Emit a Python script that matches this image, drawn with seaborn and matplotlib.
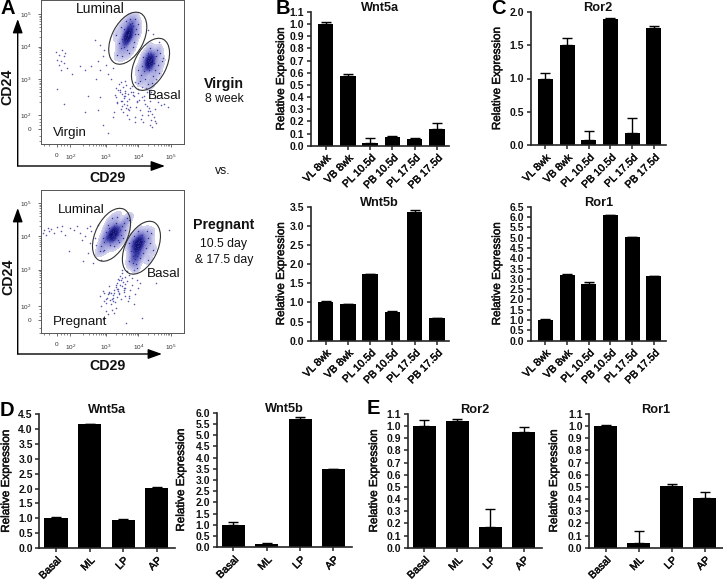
"""
Mammary gland figure: two FACS dot plots (A) and qPCR bars (B-E).
Flow events below are hand-read from the picture, in decades of the biexponential axis.
"""

import numpy as np
import matplotlib
matplotlib.use("Agg")
import matplotlib.pyplot as plt
import matplotlib.patheffects as pe
from matplotlib.colors import LinearSegmentedColormap
from matplotlib.patches import Ellipse
import pandas as pd
import seaborn as sns

W, H = 723, 580

TIME_LABELS = ["VL 8wk", "VB 8wk", "PL 10.5d", "PB 10.5d", "PL 17.5d", "PB 17.5d"]
CELL_LABELS = ["Basal", "ML", "LP", "AP"]

wnt5a_time = [1.0, 0.57, 0.02, 0.07, 0.055, 0.135]
wnt5a_time_err = [0.02, 0.02, 0.04, 0.012, 0.005, 0.055]
ror2_time = [1.0, 1.5, 0.08, 1.89, 0.18, 1.75]
ror2_time_err = [0.085, 0.105, 0.13, 0.02, 0.23, 0.03]
wnt5b_time = [1.0, 0.95, 1.74, 0.75, 3.37, 0.6]
wnt5b_time_err = [0.035, 0.005, 0.015, 0.02, 0.04, 0.005]
ror1_time = [1.0, 3.2, 2.74, 6.1, 5.02, 3.12]
ror1_time_err = [0.03, 0.05, 0.1, 0.02, 0.01, 0.01]

wnt5a_cell = [1.0, 4.16, 0.95, 2.02]
wnt5a_cell_err = [0.03, 0.02, 0.015, 0.03]
wnt5b_cell = [1.0, 0.13, 5.73, 3.47]
wnt5b_cell_err = [0.12, 0.08, 0.06, 0.01]
ror2_cell = [1.0, 1.04, 0.17, 0.95]
ror2_cell_err = [0.05, 0.02, 0.15, 0.04]
ror1_cell = [1.0, 0.04, 0.51, 0.41]
ror1_cell_err = [0.01, 0.1, 0.01, 0.05]

# virgin plot, gated populations
virgin_lum_x = [3.69, 3.72, 3.65, 3.75, 3.62, 3.68, 3.78, 3.58, 3.71, 3.66, 3.82, 3.6, 3.55, 3.74,
                3.5, 3.88, 3.64, 3.8, 3.45, 3.92, 3.7, 3.56, 3.85, 3.4, 3.62, 3.98, 3.35, 3.75, 3.5, 3.9,
                3.67, 3.72, 3.63, 3.7, 3.76, 3.6, 3.3, 4.0, 3.46, 3.84]
virgin_lum_y = [4.36, 4.45, 4.28, 4.5, 4.2, 4.38, 4.3, 4.1, 4.58, 4.15, 4.62, 4.42, 4.0, 4.7,
                4.25, 4.4, 3.9, 4.72, 3.95, 4.55, 3.8, 4.55, 4.15, 4.1, 4.78, 4.7, 3.75, 4.85, 3.7, 4.85,
                4.32, 4.4, 4.35, 4.25, 4.42, 4.3, 4.35, 4.4, 4.6, 3.98]
virgin_bas_x = [4.35, 4.38, 4.32, 4.42, 4.3, 4.36, 4.47, 4.25, 4.4, 4.33, 4.55, 4.22, 4.5, 4.18,
                4.28, 4.6, 4.12, 4.45, 4.08, 4.65, 4.2, 4.58, 4.05, 4.35, 4.72, 4.15, 4.3, 4.62, 4.0, 4.42,
                4.34, 4.37, 4.39, 4.31, 4.36, 4.33]
virgin_bas_y = [3.56, 3.62, 3.48, 3.66, 3.58, 3.4, 3.5, 3.36, 3.75, 3.3, 3.7, 3.55, 3.3, 3.25,
                3.8, 3.45, 3.42, 3.1, 3.12, 3.82, 3.0, 3.9, 2.95, 3.95, 3.55, 3.68, 2.85, 3.2, 3.3, 2.88,
                3.55, 3.5, 3.6, 3.52, 3.44, 3.64]
# virgin plot, events outside the gates
virgin_dot_x = [1.45, 1.5, 1.55, 1.6, 1.65, 1.7, 1.72, 1.6, 1.55, 1.75, 1.8, 1.95, 2.2, 2.35, 2.55, 2.75,
                2.8, 2.9, 3.0, 2.7, 2.65, 2.8, 2.95, 3.05, 3.2, 3.15, 1.5, 1.7, 2.45, 2.35, 2.8, 2.75,
                3.25, 3.3, 3.35, 3.4, 3.45, 3.5, 3.55, 3.6, 3.65, 3.7, 3.75, 3.8, 3.85, 3.9, 3.95, 4.0,
                4.05, 4.1, 4.15, 4.2, 4.25, 4.3, 4.35, 4.4, 4.45, 4.5, 4.55, 4.6, 4.7, 4.8, 4.9, 3.3, 3.42,
                3.52, 3.62, 3.72, 3.82, 3.92, 4.02, 4.12, 4.22, 4.32, 4.42, 4.52, 3.2, 3.38, 3.48, 3.58,
                3.68, 3.78, 3.88, 3.98, 4.08, 4.18, 4.28, 4.38, 4.48, 4.35, 4.42, 4.5, 3.05, 2.9, 4.55, 4.75,
                4.28, 4.45, 4.62, 3.45, 3.55, 3.65, 3.44, 3.52, 3.58, 3.66, 3.74, 3.34, 3.46, 3.6, 3.7, 3.82,
                3.5, 3.62, 3.9, 4.0, 4.1, 4.16, 4.26, 4.36, 3.28, 3.56, 3.68, 3.94]
virgin_dot_y = [3.85, 3.6, 3.75, 3.55, 3.9, 3.7, 3.5, 3.3, 3.45, 3.8, 3.35, 3.15, 3.4, 3.3, 3.4, 3.55,
                3.3, 3.7, 3.45, 3.0, 4.2, 4.05, 3.9, 3.15, 3.35, 3.0, 2.7, 2.25, 2.5, 2.0, 2.45, 2.05,
                2.0, 2.75, 2.3, 2.85, 2.1, 2.55, 2.25, 2.65, 1.9, 2.4, 2.15, 2.8, 2.5, 1.85, 2.3, 2.7,
                2.05, 2.45, 1.7, 2.25, 2.6, 1.9, 2.35, 1.75, 2.55, 2.1, 1.65, 2.3, 2.2, 2.25, 2.15, 2.45, 2.62,
                2.0, 2.82, 1.78, 2.52, 2.15, 2.38, 1.9, 2.72, 2.12, 1.95, 2.42, 1.85, 2.68, 2.18, 2.48,
                2.08, 2.62, 1.68, 2.88, 1.8, 2.5, 2.02, 2.6, 1.85, 1.6, 1.55, 1.72, 1.35, 1.6, 3.0, 3.65,
                4.5, 4.4, 4.15, 2.35, 2.42, 2.22, 2.68, 2.78, 2.58, 2.34, 2.72, 2.28, 2.92, 2.95, 2.05, 2.62,
                2.33, 2.12, 2.92, 2.58, 2.78, 2.38, 2.18, 2.02, 2.52, 2.48, 2.55, 2.35]

# pregnant plot, gated populations
preg_lum_x = [3.23, 3.27, 3.18, 3.3, 3.15, 3.22, 3.35, 3.1, 3.26, 3.2, 3.42, 3.08, 3.36, 3.02,
              3.3, 3.5, 3.0, 3.45, 2.95, 3.55, 3.12, 3.6, 2.9, 3.25, 3.65, 2.85, 3.4, 3.18, 3.05, 3.52,
              3.24, 3.2, 3.28, 3.21, 3.17, 3.26, 2.8, 3.7, 2.95, 3.35]
preg_lum_y = [4.1, 4.18, 4.02, 4.22, 4.12, 3.95, 4.08, 4.0, 4.3, 3.88, 4.2, 4.25, 3.9, 3.95,
              4.42, 4.3, 4.12, 4.05, 3.82, 4.42, 3.75, 4.2, 3.95, 3.7, 4.55, 3.7, 3.82, 4.55, 4.35, 3.95,
              4.08, 4.15, 4.12, 4.05, 4.02, 4.0, 3.55, 4.5, 3.58, 4.6]
preg_bas_x = [3.99, 4.03, 3.95, 4.08, 3.92, 4.0, 4.12, 3.88, 4.05, 3.96, 4.18, 3.84, 4.22, 3.8,
              4.1, 3.9, 4.28, 3.76, 4.15, 4.35, 3.72, 4.0, 4.25, 3.82, 4.4, 3.94, 4.45, 3.7, 3.86, 4.3,
              3.98, 4.01, 4.04, 3.97, 3.95, 4.05, 3.88, 4.0, 3.84, 3.92]
preg_bas_y = [3.79, 3.85, 3.72, 3.88, 3.8, 3.66, 3.76, 3.68, 3.98, 3.58, 3.85, 3.85, 3.65, 3.7,
              4.05, 3.45, 3.95, 3.55, 3.5, 3.8, 3.25, 4.15, 4.15, 3.2, 4.1, 3.05, 3.6, 3.8, 4.0, 3.3,
              3.82, 3.75, 3.8, 3.7, 3.42, 3.36, 3.32, 3.5, 3.42, 3.18]
# pregnant plot, events outside the gates
preg_dot_x = [1.05, 1.1, 1.15, 1.2, 1.25, 1.3, 1.4, 1.5, 1.6, 1.65, 1.75, 1.9, 2.0, 2.1, 2.2, 2.25,
              2.35, 2.4, 2.5, 2.55, 2.65, 2.7, 2.75, 2.45, 2.6, 2.85, 2.9, 1.85, 2.3, 2.5,
              2.8, 2.85, 2.9, 2.95, 3.0, 3.05, 3.1, 3.15, 3.2, 3.25, 3.3, 3.35, 3.4, 3.45, 3.5, 3.55, 3.6,
              3.65, 3.7, 3.75, 3.8, 3.85, 3.9, 3.95, 4.0, 4.05, 2.9, 3.0, 3.1, 3.2, 3.3, 3.4, 3.5, 3.6,
              3.7, 3.8, 3.05, 3.15, 3.25, 3.35, 3.45, 3.55, 3.65, 3.5, 3.42, 3.58, 3.3, 3.38, 4.55, 4.95,
              4.1, 3.62, 3.72, 3.85, 3.55, 3.48, 3.38, 3.18, 3.02, 3.12, 3.22, 3.08, 3.18, 3.28, 3.34, 3.44,
              3.52, 3.4, 3.6, 3.68, 3.0, 2.95, 3.26, 3.36]
preg_dot_y = [4.1, 4.2, 4.05, 4.25, 4.15, 4.22, 4.1, 4.28, 4.15, 4.3, 4.05, 4.25, 4.2, 4.32, 4.1, 3.9,
              4.0, 4.25, 3.8, 4.15, 3.95, 3.75, 4.35, 3.5, 3.2, 3.3, 3.55, 3.55, 3.25, 4.3,
              2.2, 1.9, 2.35, 2.05, 1.75, 2.25, 2.5, 1.95, 2.15, 2.4, 1.85, 2.6, 2.3, 2.1, 2.75, 2.45, 2.2,
              2.65, 2.85, 2.4, 2.55, 3.0, 2.25, 2.7, 2.45, 2.6, 1.5, 2.1, 2.3, 2.05, 2.55, 2.25, 2.9, 2.45,
              2.2, 2.75, 1.65, 2.28, 1.7, 2.18, 2.68, 2.38, 2.95, 3.0, 2.82, 2.58, 2.48, 2.35, 2.6, 4.2,
              1.55, 1.4, 2.15, 1.95, 2.32, 2.5, 2.72, 1.78, 2.15, 2.08, 2.22, 2.32, 2.12, 2.02, 2.42, 2.55,
              2.62, 2.7, 2.78, 2.05, 2.0, 2.28, 2.3, 2.42]

DECADE_LABELS = ["0", "$10^2$", "$10^3$", "$10^4$", "$10^5$"]
DECADE_POS = [1.48, 1.9, 3, 4, 5]
MINOR_POS = [p + np.log10(m) for p in (2, 3, 4) for m in range(2, 10)] + [1.1, 1.25, 1.6, 1.7, 1.8]

sns.set_theme(style="ticks")
plt.rcParams["font.family"] = ["Liberation Sans", "DejaVu Sans"]
plt.rcParams["mathtext.fontset"] = "custom"
plt.rcParams["mathtext.rm"] = "Liberation Sans"
plt.rcParams["mathtext.default"] = "regular"

fig = plt.figure(figsize=(W / 100, H / 100), dpi=100, facecolor="white")
heavier = [pe.withStroke(linewidth=0.35, foreground="#111111")]


def px_axes(left, top, right, bottom, **kw):
    return fig.add_axes([left / W, 1 - bottom / H, (right - left) / W, (bottom - top) / H], **kw)


flow_cmap = LinearSegmentedColormap.from_list("flow", ["#d8d8f0", "#8f8fd4", "#4646b0", "#1c1c86", "#0c0c60"])


def flow_panel(box, xlim, ylim, pops, dots, gates):
    ax = px_axes(*box)
    for px, py in pops:
        sns.kdeplot(x=px, y=py, fill=True, cmap=flow_cmap, levels=16, thresh=0.05, bw_adjust=0.9, ax=ax, zorder=1)
        sns.scatterplot(x=px, y=py, s=1.0, color="#2f2f96", linewidth=0, ax=ax, zorder=2)
    sns.scatterplot(x=dots[0], y=dots[1], s=1.3, color="#5a5ab0", linewidth=0, ax=ax, zorder=2)
    for cx, cy in gates:
        ax.add_patch(Ellipse((cx, cy), 1.72, 0.98, angle=63, fill=False, ec="#333333", lw=0.8, zorder=3))
    ax.set_xlim(*xlim)
    ax.set_ylim(*ylim)
    ax.set_xlabel("")
    ax.set_ylabel("")
    ax.set_xticks(DECADE_POS, DECADE_LABELS)
    ax.set_yticks(DECADE_POS, DECADE_LABELS)
    ax.set_xticks(MINOR_POS, minor=True)
    ax.set_yticks(MINOR_POS, minor=True)
    ax.tick_params(which="major", length=2.5, width=0.5, labelsize=4.6, pad=4, color="#333333", labelcolor="#333333")
    ax.tick_params(which="minor", length=1.3, width=0.4, color="#333333")
    for s in ax.spines.values():
        s.set_linewidth(0.7)
        s.set_color("#555555")
    return ax


def bar_panel(box, labels, values, errors, title, yticks, xlim, ylabel_x):
    ax = px_axes(*box)
    df = pd.DataFrame({"group": labels, "value": values})
    sns.barplot(data=df, x="group", y="value", color="black", saturation=1, width=0.69, errorbar=None,
                linewidth=0, ax=ax)
    ax.errorbar(range(len(values)), values, yerr=[np.zeros(len(errors)), errors], fmt="none",
                ecolor="black", elinewidth=1.0, capsize=3.6, capthick=1.0)
    ax.set_xlim(*xlim)
    ax.set_ylim(0, yticks[-1])
    ax.set_yticks(yticks, [f"{t:.1f}" for t in yticks])
    ax.set_xticks(range(len(labels)))
    ax.set_xticklabels(labels, rotation=45, ha="right", rotation_mode="anchor", fontsize=7.6, color="#111111",
                       path_effects=heavier)
    ax.set_xlabel("")
    ax.set_ylabel("")
    ax.tick_params(axis="y", labelsize=7.5, length=3.2, width=1.1, pad=1.5, labelcolor="#111111")
    ax.tick_params(axis="x", length=3.2, width=1.1, pad=2)
    for lab in ax.get_yticklabels():
        lab.set_fontweight("bold")
    sns.despine(ax=ax)
    ax.spines["left"].set_linewidth(1.2)
    ax.spines["bottom"].set_linewidth(1.2)
    fig.text(ylabel_x / W, 1 - (box[1] + box[3]) / 2 / H, "Relative Expression", rotation=90, ha="center", va="center",
             fontsize=8.4, color="#111111", path_effects=heavier)
    fig.text((box[0] + box[2]) / 2 / W, 1 - (box[1] - 4) / H, title, ha="center", va="center",
             fontsize=9.2, fontweight="bold", color="#111111")
    return ax


flow_panel((40.7, 0, 184.3, 144), (0.99, 5.41), (1.02, 5.43),
           [(virgin_lum_x, virgin_lum_y), (virgin_bas_x, virgin_bas_y)],
           (virgin_dot_x, virgin_dot_y), [(3.67, 4.26), (4.37, 3.46)])
flow_panel((40.7, 190, 184.3, 333.3), (0.99, 5.41), (1.08, 5.40),
           [(preg_lum_x, preg_lum_y), (preg_bas_x, preg_bas_y)],
           (preg_dot_x, preg_dot_y), [(3.17, 4.05), (4.09, 3.66)])

time_xlim = (-0.67, 5.54)
cell_xlim = (-0.5, 3.55)
bar_panel((310.7, 12, 449, 145.7), TIME_LABELS, wnt5a_time, wnt5a_time_err, "Wnt5a",
          [i / 10 for i in range(12)], time_xlim, 281)
bar_panel((530.7, 11.7, 665.7, 145.3), TIME_LABELS, ror2_time, ror2_time_err, "Ror2",
          [0.0, 0.5, 1.0, 1.5, 2.0], time_xlim, 497)
bar_panel((310.7, 206.7, 449, 340.7), TIME_LABELS, wnt5b_time, wnt5b_time_err, "Wnt5b",
          [i / 2 for i in range(8)], time_xlim, 281)
bar_panel((530.7, 206.7, 665.7, 340.7), TIME_LABELS, ror1_time, ror1_time_err, "Ror1",
          [i / 2 for i in range(14)], time_xlim, 497)
bar_panel((39.3, 414.3, 175, 548), CELL_LABELS, wnt5a_cell, wnt5a_cell_err, "Wnt5a",
          [i / 2 for i in range(10)], cell_xlim, 6)
bar_panel((216.7, 412.7, 351.7, 547.3), CELL_LABELS, wnt5b_cell, wnt5b_cell_err, "Wnt5b",
          [i / 2 for i in range(13)], cell_xlim, 181)
bar_panel((407.7, 414, 541.7, 547.7), CELL_LABELS, ror2_cell, ror2_cell_err, "Ror2",
          [i / 10 for i in range(12)], cell_xlim, 374)
bar_panel((589, 414, 723, 547.7), CELL_LABELS, ror1_cell, ror1_cell_err, "Ror1",
          [i / 10 for i in range(12)], cell_xlim, 554)

# overlay in image pixels for arrows and free labels
over = fig.add_axes([0, 0, 1, 1], facecolor="none", zorder=10)
over.set_xlim(0, W)
over.set_ylim(H, 0)
over.axis("off")

arrow_style = dict(arrowstyle="-|>,head_length=0.7,head_width=0.25", color="black", lw=1.0, shrinkA=0, shrinkB=0)
for corner_y, top_y, right_x in [(166, 19, 165), (354, 208, 162)]:
    over.annotate("", xy=(17.7, top_y), xytext=(17.7, corner_y), arrowprops=arrow_style)
    over.annotate("", xy=(right_x, corner_y), xytext=(17.7, corner_y), arrowprops=arrow_style)

plain = [("Luminal", 100, 9, 10), ("Basal", 165, 96, 9.6), ("Virgin", 70, 133, 9.6),
         ("Luminal", 81, 210, 9.6), ("Basal", 164, 274, 9.6), ("Pregnant", 80, 322, 9.6),
         ("8 week", 224, 99, 8.8), ("vs.", 223, 171, 8.8),
         ("10.5 day", 224, 244, 8.8), ("& 17.5 day", 224, 260, 8.8)]
for txt, x, y, size in plain:
    over.text(x, y, txt, ha="center", va="center", fontsize=size, color="#111111")

bold = [("CD24", 7, 87, 10.2, 90), ("CD29", 108, 178, 10.2, 0), ("CD24", 8, 277, 10.2, 90), ("CD29", 108, 366, 10.2, 0),
        ("Virgin", 224, 84, 10.2, 0), ("Pregnant", 224, 225, 10.2, 0)]
for txt, x, y, size, rot in bold:
    over.text(x, y, txt, ha="center", va="center", fontsize=size, fontweight="bold", rotation=rot, color="#111111")

for letter, x, y in [("A", 8, 9), ("B", 283, 9), ("C", 498, 9), ("D", 7, 410), ("E", 373, 409)]:
    over.text(x, y, letter, ha="center", va="center", fontsize=14.5, fontweight="bold", color="black")

fig.savefig("out.png", dpi=100)
